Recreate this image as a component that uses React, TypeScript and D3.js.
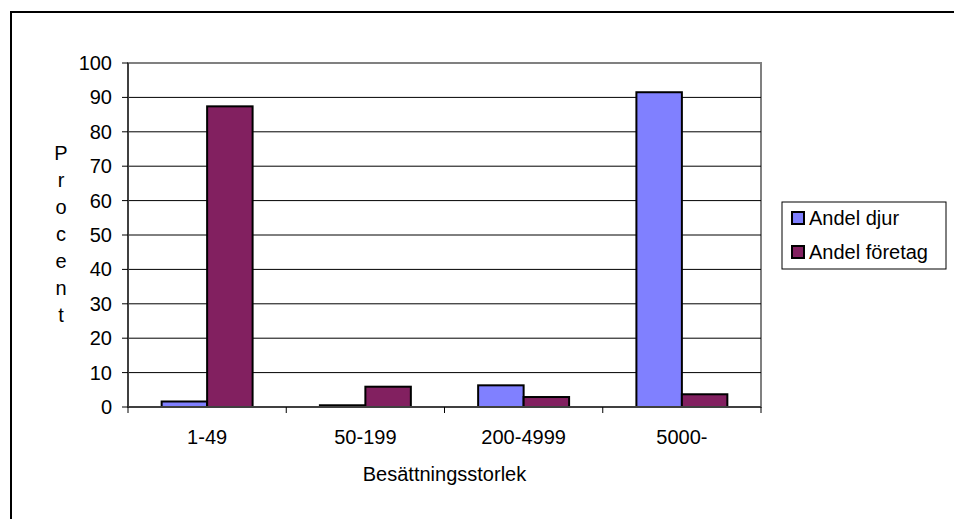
import React from "react";
import * as d3 from "d3";

const categories = ["1-49", "50-199", "200-4999", "5000-"];
const seriesNames = ["Andel djur", "Andel företag"];
const andelDjur = [1.6, 0.5, 6.3, 91.5];
const andelForetag = [87.4, 5.9, 2.9, 3.7];
const yTicks = [0, 10, 20, 30, 40, 50, 60, 70, 80, 90, 100];
const yLabel = "Procent";
const xTitle = "Besättningsstorlek";
const colors = ["#8080FF", "#822060"];

const W = 954;
const H = 519;
const FONT = "Arial, 'Liberation Sans', sans-serif";

export default function App() {
  const left = 128, right = 761, top = 63, bottom = 407;
  const x0 = d3.scaleBand<string>().domain(categories).range([left, right]).paddingInner(0).paddingOuter(0);
  const bw = x0.bandwidth();
  const x1 = d3.scaleBand<string>().domain(seriesNames).range([0, bw]).paddingInner(0).paddingOuter(0.74);
  const y = d3.scaleLinear().domain([0, 100]).range([bottom, top]);
  const series = [andelDjur, andelForetag];

  return (
    <svg width={W} height={H} style={{ position: "absolute", left: 0, top: 0, background: "#fff" }} fontFamily={FONT}>
      <rect x={0} y={0} width={W} height={H} fill="#fff" />
      {/* outer frame */}
      <rect x={11} y={12} width={W + 20} height={H + 20} fill="none" stroke="#000" strokeWidth={2} />
      {/* plot area border */}
      <rect x={left} y={top} width={right - left} height={bottom - top} fill="#fff" stroke="#808080" strokeWidth={2} />
      {/* gridlines */}
      {yTicks.filter((t) => t > 0 && t < 100).map((t) => (
        <line key={t} x1={left} x2={right} y1={y(t)} y2={y(t)} stroke="#000" strokeWidth={1} />
      ))}
      {/* bars */}
      {categories.map((c, i) => (
        <g key={c}>
          {seriesNames.map((s, j) => {
            const v = series[j][i];
            const bx = (x0(c) as number) + (x1(s) as number);
            return (
              <rect key={s} x={bx} y={y(v)} width={x1.bandwidth()} height={y(0) - y(v)}
                fill={colors[j]} stroke="#000" strokeWidth={2} />
            );
          })}
        </g>
      ))}
      {/* axes */}
      <line x1={left} x2={left} y1={top} y2={bottom} stroke="#404040" strokeWidth={2} />
      <line x1={left} x2={right} y1={bottom} y2={bottom} stroke="#404040" strokeWidth={2} />
      {yTicks.map((t) => (
        <g key={t}>
          <line x1={left - 6} x2={left} y1={y(t)} y2={y(t)} stroke="#000" strokeWidth={1} />
          <text x={112} y={y(t)} dy="0.35em" textAnchor="end" fontSize={20} fill="#000">{t}</text>
        </g>
      ))}
      {[...categories.map((c) => x0(c) as number), right].map((xv, i) => (
        <line key={i} x1={xv} x2={xv} y1={bottom} y2={bottom + 6} stroke="#000" strokeWidth={1} />
      ))}
      {categories.map((c) => (
        <text key={c} x={(x0(c) as number) + bw / 2} y={437} dy="0.35em" textAnchor="middle" fontSize={20} fill="#000">{c}</text>
      ))}
      <text x={(left + right) / 2} y={474} dy="0.35em" textAnchor="middle" fontSize={20} fill="#000">{xTitle}</text>
      {yLabel.split("").map((ch, i) => (
        <text key={i} x={61} y={153 + i * 27} dy="0.35em" textAnchor="middle" fontSize={20} fill="#000">{ch}</text>
      ))}
      {/* legend */}
      <rect x={782} y={202} width={164} height={67} fill="#fff" stroke="#000" strokeWidth={1} />
      {seriesNames.map((s, j) => (
        <g key={s}>
          <rect x={792} y={218 + j * 34 - 6} width={12} height={12} fill={colors[j]} stroke="#000" strokeWidth={2} />
          <text x={809} y={218 + j * 34} dy="0.35em" fontSize={20} fill="#000">{s}</text>
        </g>
      ))}
    </svg>
  );
}
